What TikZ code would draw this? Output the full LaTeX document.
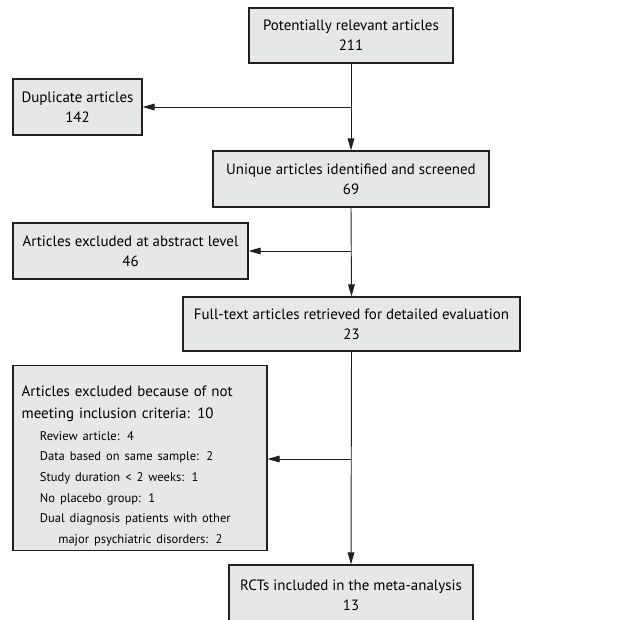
\documentclass[tikz,border=0pt]{standalone}
\usepackage{fontspec}
\setmainfont{PT Sans}
\usepackage{tikz}
\usetikzlibrary{positioning,calc}
\usetikzlibrary{arrows.meta}
\definecolor{boxfill}{RGB}{230,231,232}
\definecolor{boxline}{RGB}{35,31,32}
\newcommand{\itemfont}{\fontsize{9.4}{15}\selectfont}

\begin{document}
\begin{tikzpicture}[x=0.75pt,y=-0.75pt,font=\fontsize{11.2}{15}\selectfont,
	box/.style={rectangle,draw=boxline,fill=boxfill,line width=0.9pt,align=center},
	arr/.style={-{Triangle[length=9pt,width=5pt]},draw=boxline,line width=0.7pt}]
	\useasboundingbox (0,0) rectangle (617,620);
	\clip (0,0) rectangle (617,620);

	\node[box,minimum width=153pt,minimum height=41.25pt] (potential) at(351,35.5) {Potentially relevant articles\\211};
	\node[box,minimum width=96.75pt,minimum height=42pt] (duplicate) at(77.5,107) {Duplicate articles\\142};
	\node[box,minimum width=207pt,minimum height=42pt] (unique) at(351,179) {Unique articles identified and screened\\69};
	\node[box,minimum width=176.25pt,minimum height=42pt] (abstract) at(130.5,251) {Articles excluded at abstract level\\46};
	\node[box,minimum width=252.75pt,minimum height=40.5pt] (fulltext) at(351.5,324) {Full-text articles retrieved for detailed evaluation\\23};
	\node[box,align=left,text width=177.5pt,inner xsep=6.5pt,minimum height=136.5pt] (criteria) at(140,458) {\rule{0pt}{20pt}Articles excluded because of not\\[1pt]
		meeting inclusion criteria: 10\\[1.5pt]
		{\itemfont\hspace*{13.7pt}Review article: 4}\\[0.5pt]
		{\itemfont\hspace*{13.7pt}Data based on same sample: 2}\\[0.5pt]
		{\itemfont\hspace*{13.7pt}Study duration < 2 weeks: 1}\\[0.5pt]
		{\itemfont\hspace*{13.7pt}No placebo group: 1}\\[0.5pt]
		{\itemfont\hspace*{13.7pt}Dual diagnosis patients with other}\\[0.5pt]
		{\itemfont\hspace*{27.5pt}major psychiatric disorders: 2}};
	\node[box,minimum width=183pt,minimum height=45pt] (rcts) at(351,595) {RCTs included in the meta-analysis\\13};

	\coordinate (split1) at(351,107);
	\coordinate (split2) at(351,251);
	\coordinate (split3) at(351,459);

	\draw [arr] (potential.south) -- (unique.north);
	\draw [arr] (split1) -- (duplicate.east);
	\draw [arr] (unique.south) -- (fulltext.north);
	\draw [arr] (split2) -- (abstract.east);
	\draw [arr] (fulltext.south) -- (rcts.north);
	\draw [arr] (split3) -- (split3 -| criteria.east);
\end{tikzpicture}
\end{document}
